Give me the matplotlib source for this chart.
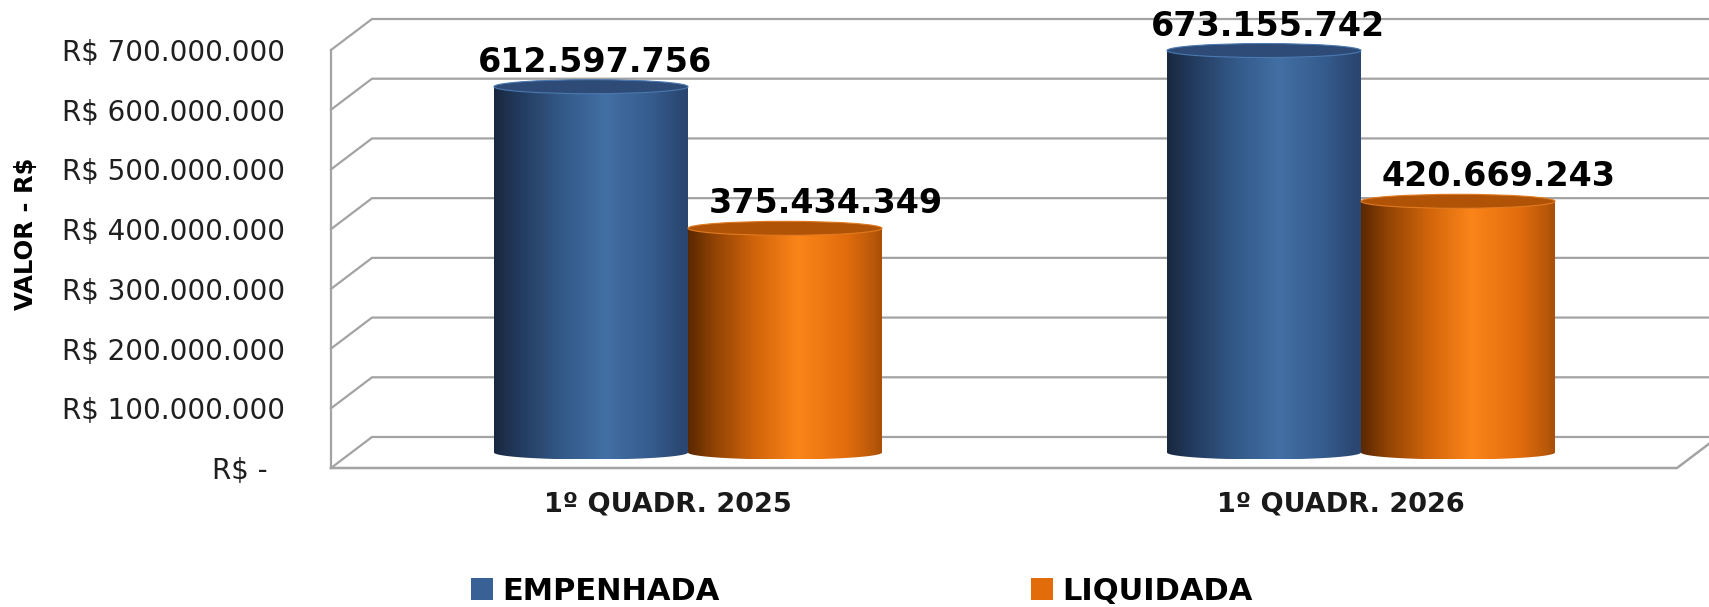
import numpy as np
import matplotlib
matplotlib.use('Agg')
import matplotlib.pyplot as plt
from matplotlib.patches import Ellipse, PathPatch, Patch
from matplotlib.path import Path
from matplotlib.colors import LinearSegmentedColormap

# ---------------- data ----------------
categories = ['1º QUADR. 2025', '1º QUADR. 2026']
series_names = ['EMPENHADA', 'LIQUIDADA']
empenhada = [612597756, 673155742]
liquidada = [375434349, 420669243]
labels_emp = ['612.597.756', '673.155.742']
labels_liq = ['375.434.349', '420.669.243']
tick_values = [0, 100e6, 200e6, 300e6, 400e6, 500e6, 600e6, 700e6]
tick_labels = ['R$ -  ', 'R$ 100.000.000', 'R$ 200.000.000', 'R$ 300.000.000',
               'R$ 400.000.000', 'R$ 500.000.000', 'R$ 600.000.000', 'R$ 700.000.000']
y_title = 'VALOR - R$'

# ---------------- layout ----------------
W, H = 1709, 607
fig = plt.figure(figsize=(W / 100, H / 100), dpi=100)
ax_left, ax_right, ax_bottom = 331, 1677, 468
ppu = 418 / 700e6                      # pixels per value unit
ymax = ax_bottom / ppu
ax = fig.add_axes([ax_left / W, (H - ax_bottom) / H, (ax_right - ax_left) / W, ax_bottom / H])
ax.patch.set_visible(False)
for s in ax.spines.values():
    s.set_visible(False)

px_x = (ax_right - ax_left) / 2.0      # pixels per category unit
DX = 41 / px_x
DY = 31 / ppu
BW = 194 / px_x
EH = 7 / ppu                           # ellipse semi-height (value units)

grid_c = '#a3a3a3'
# back wall + left wall gridlines
for v in tick_values:
    ax.plot([0, DX, 2 + DX], [v, v + DY, v + DY], color=grid_c, lw=1.6,
            clip_on=False, zorder=1, solid_joinstyle='miter')
ax.plot([0, 0], [0, tick_values[-1]], color=grid_c, lw=1.6, clip_on=False, zorder=1)
# floor front edge
ax.plot([0, 2, 2 + DX], [0, 0, DY], color=grid_c, lw=1.8, clip_on=False, zorder=1)

blue_cmap = LinearSegmentedColormap.from_list('b', [
    (0.0, '#19283f'), (0.12, '#22395c'), (0.35, '#335988'),
    (0.58, '#426fa5'), (0.82, '#355b8c'), (0.96, '#2b4873'), (1.0, '#2a4670')])
orange_cmap = LinearSegmentedColormap.from_list('o', [
    (0.0, '#5a2800'), (0.14, '#934404'), (0.35, '#d2650b'),
    (0.57, '#fb8519'), (0.82, '#e26c0c'), (0.96, '#b8580a'), (1.0, '#a94f08')])
top_colors = ['#2d4b76', '#b05306']
edge_colors = ['#4a78b0', '#e07a20']

grad = np.linspace(0, 1, 256)[np.newaxis, :]


def cylinder(x0, x1, value, cmap, top_c, edge_c, z):
    base = DY / 2
    top = value + DY / 2
    xc = (x0 + x1) / 2
    a = (x1 - x0) / 2
    t = np.linspace(np.pi, 2 * np.pi, 60)
    ex = xc + a * np.cos(t)
    ey = base + EH * np.sin(t)
    verts = [(x0, top)] + list(zip(ex, ey)) + [(x1, top), (x0, top)]
    codes = [Path.MOVETO] + [Path.LINETO] * (len(verts) - 2) + [Path.CLOSEPOLY]
    clip = PathPatch(Path(verts, codes), transform=ax.transData,
                     facecolor='none', edgecolor='none')
    ax.add_patch(clip)
    im = ax.imshow(grad, extent=[x0, x1, base - EH, top], cmap=cmap,
                   aspect='auto', interpolation='bicubic', zorder=z)
    im.set_clip_path(clip)
    ax.add_patch(Ellipse((xc, top), x1 - x0, 2 * EH, facecolor=top_c,
                         edgecolor=edge_c, lw=0.8, zorder=z + 0.1))
    return xc, top


centers = [0.5, 1.5]
for i, c in enumerate(centers):
    x0 = c - BW + DX / 2
    xc, top = cylinder(x0, x0 + BW, empenhada[i], blue_cmap, top_colors[0], edge_colors[0], 3 + i)
    ax.text(xc + 4 / px_x, top + 15 / ppu, labels_emp[i], ha='center', va='baseline',
            fontsize=24, fontweight='bold', color='black', zorder=10)
    x0 = c + DX / 2
    xc, top = cylinder(x0, x0 + BW, liquidada[i], orange_cmap, top_colors[1], edge_colors[1], 3.5 + i)
    ax.text(xc + 41 / px_x, top + 15 / ppu, labels_liq[i], ha='center', va='baseline',
            fontsize=24, fontweight='bold', color='black', zorder=10)

ax.set_xlim(0, 2)
ax.set_ylim(0, ymax)

ax.set_yticks(tick_values)
ax.set_yticklabels(tick_labels, fontsize=20, color='#1f1f1f')
ax.tick_params(axis='y', length=0, pad=33)
ax.set_xticks(centers)
ax.set_xticklabels(categories, fontsize=19.5, fontweight='bold', color='#1a1a1a')
ax.tick_params(axis='x', length=0, pad=17)

fig.text(26 / W, 1 - 234 / H, y_title, rotation=90, fontsize=17.5, fontweight='bold',
         ha='center', va='center')

handles = [Patch(facecolor='#3a6196', edgecolor='none'),
           Patch(facecolor='#e36c0a', edgecolor='none')]
fig.legend(handles=handles, labels=series_names, ncol=2, loc='center left',
           bbox_to_anchor=(471 / W, 1 - 591 / H), frameon=False,
           prop={'size': 22, 'weight': 'bold'}, handlelength=0.72, handleheight=0.72,
           handletextpad=0.3, columnspacing=10.2, borderpad=0, borderaxespad=0)

fig.savefig('out.png', dpi=100)
